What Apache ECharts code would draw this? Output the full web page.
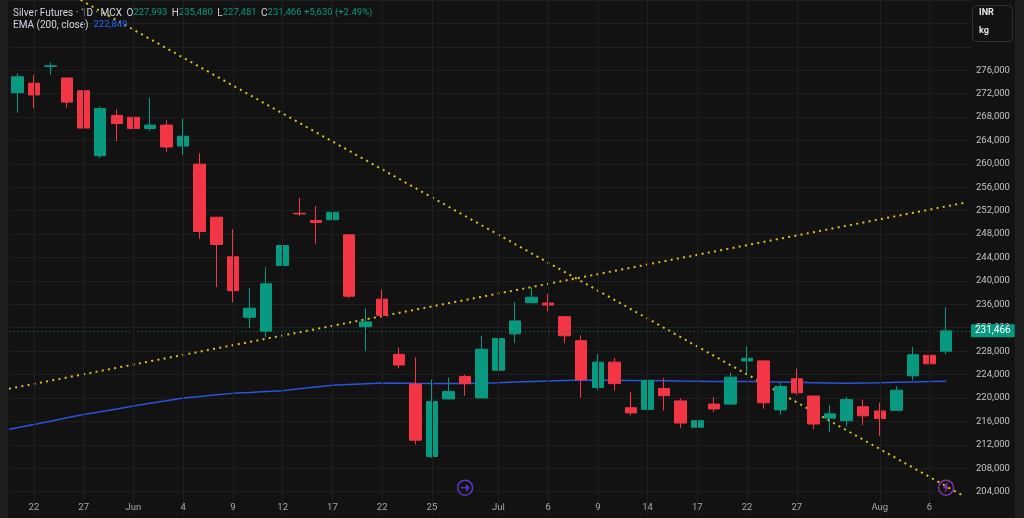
<!DOCTYPE html>
<html>
<head>
<meta charset="utf-8">
<script src="https://cdn.jsdelivr.net/npm/echarts@6.0.0/dist/echarts.min.js"></script>
<style>
    html, body { margin: 0; padding: 0; background: #121212; }
    #chart { width: 1024px; height: 518px; }
</style>
</head>
<body>
<div id="chart"></div>
<script>
// trading days (last one is an empty slot on the right)
const dates = ['05-21','05-22','05-25','05-26','05-27','05-28','05-29',
    '06-01','06-02','06-03','06-04','06-05','06-08','06-09','06-10','06-11','06-12',
    '06-15','06-16','06-17','06-18','06-19','06-22','06-23','06-24','06-25','06-26','06-29','06-30',
    '07-01','07-02','07-03','07-06','07-07','07-08','07-09','07-10','07-13','07-14','07-15','07-16','07-17',
    '07-20','07-21','07-22','07-23','07-24','07-27','07-28','07-29','07-30','07-31',
    '08-03','08-04','08-05','08-06','08-07','08-10'];

const opens = [272170,273780,276650,274670,272500,261380,268280,267950,266050,266620,
    263050,259950,250880,244120,233780,231380,242620,251550,250330,250450,
    247880,232170,236880,227450,222380,210000,219830,223670,220000,224720,
    230950,236280,236220,233880,229780,221780,226120,218330,218050,221620,
    219500,215000,218950,218950,226330,226330,217950,223280,220330,216550,
    216120,218500,217780,217880,223780,227280,227993];
const highs = [275500,275170,277330,274700,272550,269830,269330,268670,271330,267450,
    267780,261830,250950,248830,238780,242330,246830,254170,252780,252380,
    247950,235280,238550,228620,226950,223170,223500,224000,230620,232780,
    236380,238880,237780,233950,230720,227500,226830,221050,225220,223380,
    219950,217050,220170,224330,228830,226500,222620,225000,220400,218780,
    220170,219720,219170,222000,228720,228220,235480];
const lows = [268720,269500,275220,269620,263220,260950,263880,262050,265670,262050,
    261500,247170,238950,236330,231950,230380,239830,251120,246380,247780,
    237050,228050,233780,225050,212050,209720,219800,220380,219950,222330,
    229380,236200,234830,229380,220000,221380,221280,217050,217720,217880,
    214830,213550,217620,218900,224170,218170,217120,220550,214620,214170,
    215120,215380,213500,217850,223050,224170,227481];
const closes = [274880,271780,276750,270550,266120,269450,266880,266050,266620,262880,
    264720,248450,246220,238330,235330,239500,246050,251450,250000,251720,
    237380,233000,234120,225620,212780,219380,221120,222450,228330,230170,
    233170,237220,235880,230620,223120,226120,222450,217450,223000,220380,
    215720,216120,218120,223550,226780,219170,221950,220880,215550,217280,
    219720,216950,216500,221330,227380,225836,231466];

// EMA(200, close), plus the value where the line enters at the left edge
const emaLeftEdge = 214650;
const ema = [214917,215467,216033,216617,217167,217650,218117,218617,219083,219533,
    220000,220267,220533,220783,220933,221100,221250,221567,221867,222167,
    222300,222417,222550,222533,222500,222483,222467,222450,222533,222617,
    222717,222817,222900,223000,223050,223033,223017,223000,222983,222950,
    222900,222867,222833,222817,222800,222783,222733,222667,222617,222567,
    222500,222550,222600,222667,222733,222800,222849];

// drawn trend lines: [bar index, price]
const trendDown = [[3.82, 288000], [56.95, 203400]];
const trendUp = [[-0.5, 221570], [57.2, 253400]];

// dates that get a label on the time axis
const tickDates = ['05-22','05-27','06-01','06-04','06-09','06-12','06-17','06-22','06-25',
    '07-01','07-06','07-09','07-14','07-17','07-22','07-27','08-03','08-06'];
const monthNames = { '05': 'May', '06': 'Jun', '07': 'Jul', '08': 'Aug' };

// event markers under the bars
const eventIdx = [27, 56];
const eventLevel = 204667;

const fmt = v => Math.round(v).toLocaleString('en-US');

let chart = echarts.init(document.getElementById('chart'));

const n = opens.length;
const last = n - 1;
const chg = closes[last] - closes[last - 1];
const chgPct = chg / closes[last - 1] * 100;

const candles = opens.map((o, i) => [o, closes[i], lows[i], highs[i]]);
const emaLine = [[-0.5, emaLeftEdge]].concat(ema.map((v, i) => [i, v]));
const showTick = (idx, value) => tickDates.indexOf(value) >= 0;
const tickLabel = (value, idx) => {
    let m = value.slice(0, 2);
    if (idx > 0 && dates[idx - 1].slice(0, 2) !== m) return monthNames[m];
    return String(parseInt(value.slice(3), 10));
};

//icon shapes for the two event markers
const eventColors = ['#6a3ff0', '#9c3cc8'];
const eventIcons = [
    'path://M0,4.2 L6,4.2 L6,1 L10,5 L6,9 L6,5.8 L0,5.8 Z',
    'path://M6,0 L1,9 L4.6,9 L3,16 L9,6 L5.4,6 L7.5,0 Z'
];
const eventIconSize = [[9, 8], [7, 10]];

const grid_color = '#1e1e1e';
const font = 'Roboto';
const hdr = { fontSize: 9.5, fontFamily: font, fontWeight: 'normal' };

var option = {
    backgroundColor: '#121212',
    animation: false,
    textStyle: { fontFamily: font },
    title: [{
        left: 13,
        top: 8,
        padding: 0,
        text: '{t|Silver Futures · 1D · MCX} {k|O}{v|' + fmt(opens[last]) + '} {k|H}{v|' + fmt(highs[last]) +
            '} {k|L}{v|' + fmt(lows[last]) + '} {k|C}{v|' + fmt(closes[last]) + '} {v|' +
            (chg >= 0 ? '+' : '') + fmt(chg) + ' (' + (chg >= 0 ? '+' : '') + chgPct.toFixed(2) + '%)}',
        textStyle: {
            fontWeight: 'normal',
            fontSize: 10,
            rich: {
                t: Object.assign({}, hdr, { color: '#d1d4dc', fontSize: 10 }),
                k: Object.assign({}, hdr, { color: '#d1d4dc', fontSize: 10, padding: [0, 0, 0, 2] }),
                v: Object.assign({}, hdr, { color: '#089981' })
            }
        }
    }, {
        left: 13,
        top: 20,
        padding: 0,
        text: '{t|EMA (200, close)}  {b|' + fmt(ema[last]) + '}',
        textStyle: {
            fontWeight: 'normal',
            fontSize: 10,
            rich: {
                t: Object.assign({}, hdr, { color: '#d1d4dc', fontSize: 10 }),
                b: Object.assign({}, hdr, { color: '#2962ff' })
            }
        }
    }],
    grid: { left: 9, right: 53, top: -13, bottom: 3 },
    xAxis: [{
        type: 'category',
        data: dates,
        boundaryGap: true,
        z: 10,
        axisLine: { show: false },
        axisTick: { show: false },
        axisLabel: {
            inside: true,
            margin: 2,
            interval: showTick,
            formatter: tickLabel,
            color: '#a8a8a8',
            fontSize: 9.5
        },
        splitLine: {
            show: true,
            interval: showTick,
            alignWithLabel: true,
            lineStyle: { color: grid_color }
        }
    }, {
        type: 'value',
        min: -0.5,
        max: dates.length - 0.5,
        show: false
    }],
    yAxis: {
        type: 'value',
        position: 'right',
        min: 200000,
        max: 288000,
        interval: 4000,
        axisLine: { show: false },
        axisTick: { show: false },
        axisLabel: {
            margin: 5,
            color: '#c4c4c4',
            fontSize: 9.5,
            formatter: v => (v > 276000 || v < 204000) ? '' : fmt(v)
        },
        splitLine: { lineStyle: { color: grid_color } }
    },
    graphic: [
        { type: 'rect', z: 1, shape: { x: 8, y: 496, width: 1008, height: 22 }, style: { fill: '#121212' } },
        { type: 'rect', z: 1, shape: { x: 0, y: 0, width: 8, height: 518 }, style: { fill: '#1f1f1f' } },
        { type: 'rect', z: 1, shape: { x: 1015, y: 0, width: 9, height: 518 }, style: { fill: '#1f1f1f' } },
        { type: 'rect', z: 1, shape: { x: 972.5, y: 5.5, width: 40, height: 36, r: 4 }, style: { fill: '#121212', stroke: '#303030', lineWidth: 1 } },
        { type: 'text', z: 2, x: 979, y: 13, style: { text: 'INR', fill: '#e6e6e6', font: 'bold 9px Roboto', verticalAlign: 'middle' } },
        { type: 'text', z: 2, x: 979, y: 31, style: { text: 'kg', fill: '#e6e6e6', font: 'bold 9px Roboto', verticalAlign: 'middle' } }
    ],
    series: [{
        name: 'EMA',
        type: 'line',
        xAxisIndex: 1,
        data: emaLine,
        symbol: 'none',
        lineStyle: { color: '#2a55dc', width: 1.5 },
        z: 2
    }, {
        name: 'trend down',
        type: 'line',
        xAxisIndex: 1,
        data: trendDown,
        symbol: 'none',
        clip: true,
        lineStyle: { color: '#d8c520', width: 2, type: [2, 4.3] },
        z: 3
    }, {
        name: 'trend up',
        type: 'line',
        xAxisIndex: 1,
        data: trendUp,
        symbol: 'none',
        clip: true,
        lineStyle: { color: '#d8c520', width: 2, type: [2, 4.3] },
        z: 3
    }, {
        name: 'Silver Futures',
        type: 'candlestick',
        data: candles,
        barWidth: 12,
        itemStyle: {
            color: '#089981',
            color0: '#f23645',
            borderColor: '#089981',
            borderColor0: '#f23645',
            borderWidth: 1
        },
        z: 4,
        markLine: {
            silent: true,
            symbol: ['none', 'none'],
            data: [{ yAxis: closes[last] }],
            lineStyle: { color: '#0f7a60', type: [1, 3], width: 1, opacity: 1 },
            label: {
                position: 'end',
                distance: 0,
                formatter: () => fmt(closes[last]),
                backgroundColor: '#089981',
                color: '#ffffff',
                fontSize: 10,
                fontFamily: font,
                padding: [2, 4, 1, 4],
                borderRadius: 1
            }
        }
    }, {
        name: 'events',
        type: 'scatter',
        data: eventIdx.map((idx, k) => ({
            value: [idx, eventLevel],
            itemStyle: { color: 'rgba(0,0,0,0)', borderColor: eventColors[k], borderWidth: 1.5 }
        })),
        symbol: 'circle',
        symbolSize: 15,
        z: 5
    }, {
        name: 'event icons',
        type: 'scatter',
        data: eventIdx.map((idx, k) => ({
            value: [idx, eventLevel],
            symbol: eventIcons[k],
            symbolSize: eventIconSize[k],
            itemStyle: { color: eventColors[k] }
        })),
        z: 6
    }]
};

chart.setOption(option);
</script>
</body>
</html>
